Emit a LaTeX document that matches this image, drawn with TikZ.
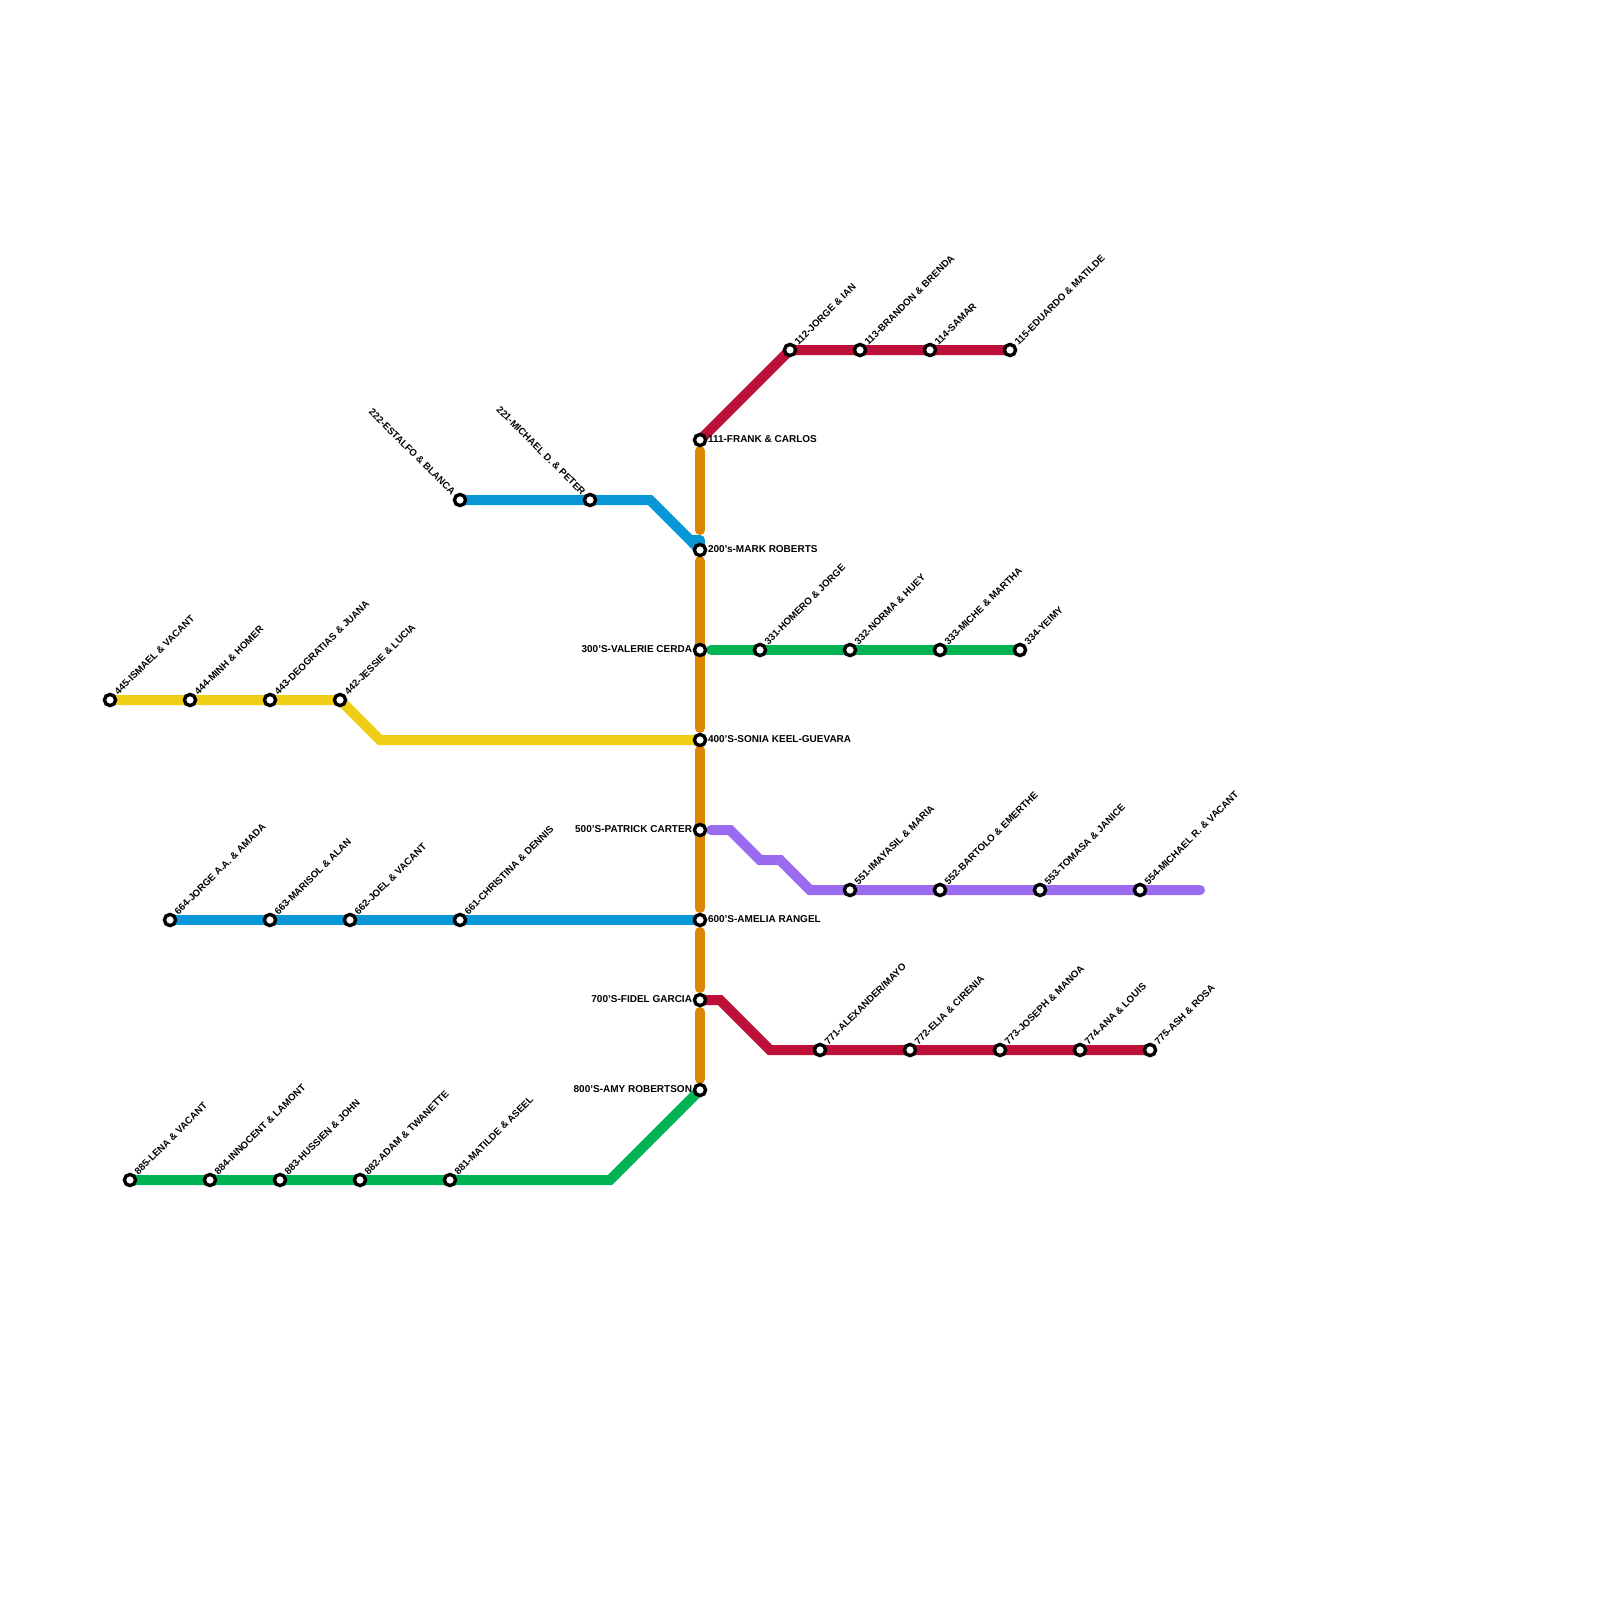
\documentclass[tikz,border=0pt]{standalone}
\usepackage{fontspec}
\setmainfont{Liberation Sans}
\definecolor{lred}{HTML}{BD1038}
\definecolor{lorange}{HTML}{DF8600}
\definecolor{lblue}{HTML}{0896D7}
\definecolor{lgreen}{HTML}{00B251}
\definecolor{lyellow}{HTML}{F0CE15}
\definecolor{lpurple}{HTML}{9A6AF0}
\tikzset{
  line/.style={line width=5pt,line join=miter},
  stn/.style={circle,draw=black,fill=white,line width=1.7pt,minimum size=5.6pt,inner sep=0pt},
  lab/.style={font=\fontsize{5}{5.5}\selectfont\bfseries,text=black,inner sep=0pt},
  rot/.style={lab,font=\fontsize{4.85}{5.5}\selectfont\bfseries},
  ne/.style={rot,rotate=45,anchor=south west,xshift=4.4pt,yshift=-1.7pt},
  nw/.style={rot,rotate=-45,anchor=south east,xshift=-4.4pt,yshift=-1.8pt},
  er/.style={lab,anchor=west,xshift=3.8pt,yshift=0.4pt},
  wl/.style={lab,anchor=east,xshift=-3.8pt,yshift=0.4pt}
}
\begin{document}
\begin{tikzpicture}[x=0.5pt,y=-0.5pt]
\useasboundingbox (0,0) rectangle (1600,1600);
\foreach \n/\y in {a/440,b/550,c/650,d/740,e/830,f/920,g/1000,h/1090}{\coordinate (\n) at (700,\y);}
% orange segments
\draw[line,lorange,line cap=round] (700,451) -- (700,530);
\draw[line,lorange,line cap=round] (700,561) -- (700,728);
\draw[line,lorange,line cap=round] (700,750) -- (700,908);
\draw[line,lorange,line cap=round] (700,932) -- (700,988);
\draw[line,lorange,line cap=round] (700,1012) -- (700,1079);
% red top
\draw[line,lred] (a) -- (790,350) -- (1010,350);
% blue 200
\draw[line,lblue] (460,500) -- (650,500) -- (b);
\draw[line,lblue,line join=round] (690,540) -- (700,540) -- (b);
% green 300
\draw[line,lgreen,line cap=round] (711,650) -- (1020,650);
% yellow
\draw[line,lyellow] (110,700) -- (340,700) -- (380,740) -- (d);
% purple
\draw[line,lpurple,line cap=round] (711,830) -- (730,830) -- (760,860) -- (780,860) -- (810,890) -- (1200,890);
% blue 600
\draw[line,lblue] (170,920) -- (f);
% red bottom
\draw[line,lred] (g) -- (720,1000) -- (770,1050) -- (1150,1050);
% green bottom
\draw[line,lgreen] (130,1180) -- (610,1180) -- (h);
% stations with labels
\foreach \n/\x/\y/\t in {
 s112/790/350/112-JORGE \& IAN, s113/860/350/113-BRANDON \& BRENDA, s114/930/350/114-SAMAR, s115/1010/350/115-EDUARDO \& MATILDE,
 s331/760/650/331-HOMERO \& JORGE, s332/850/650/332-NORMA \& HUEY, s333/940/650/333-MICHE \& MARTHA, s334/1020/650/334-YEIMY,
 s445/110/700/445-ISMAEL \& VACANT, s444/190/700/444-MINH \& HOMER, s443/270/700/443-DEOGRATIAS \& JUANA, s442/340/700/442-JESSIE \& LUCIA,
 s551/850/890/551-IMAYASIL \& MARIA, s552/940/890/552-BARTOLO \& EMERTHE, s553/1040/890/553-TOMASA \& JANICE, s554/1140/890/554-MICHAEL R. \& VACANT,
 s664/170/920/664-JORGE A.A. \& AMADA, s663/270/920/663-MARISOL \& ALAN, s662/350/920/662-JOEL \& VACANT, s661/460/920/661-CHRISTINA \& DENNIS,
 s771/820/1050/{771-ALEXANDER/MAYO}, s772/910/1050/772-ELIA \& CIRENIA, s773/1000/1050/773-JOSEPH \& MANOA, s774/1080/1050/774-ANA \& LOUIS, s775/1150/1050/775-ASH \& ROSA,
 s885/130/1180/885-LENA \& VACANT, s884/210/1180/884-INNOCENT \& LAMONT, s883/280/1180/883-HUSSIEN \& JOHN, s882/360/1180/882-ADAM \& TWANETTE, s881/450/1180/881-MATILDE \& ASEEL}{
  \node[stn] (\n) at (\x,\y) {};
  \node[ne] at (\n.center) {\t};
}
\foreach \n/\x/\y/\t in {s222/460/500/222-ESTALFO \& BLANCA, s221/590/500/221-MICHAEL D. \& PETER}{
  \node[stn] (\n) at (\x,\y) {};
  \node[nw] at (\n.center) {\t};
}
\foreach \n/\m/\t in {sa/a/111-FRANK \& CARLOS, sb/b/200's-MARK ROBERTS, sd/d/400'S-SONIA KEEL-GUEVARA, sf/f/600'S-AMELIA RANGEL}{
  \node[stn] (\n) at (\m) {};
  \node[er] at (\m) {\t};
}
\foreach \n/\m/\t in {sc/c/300'S-VALERIE CERDA, se/e/500'S-PATRICK CARTER, sg/g/700'S-FIDEL GARCIA, sh/h/800'S-AMY ROBERTSON}{
  \node[stn] (\n) at (\m) {};
  \node[wl] at (\m) {\t};
}
\end{tikzpicture}
\end{document}
